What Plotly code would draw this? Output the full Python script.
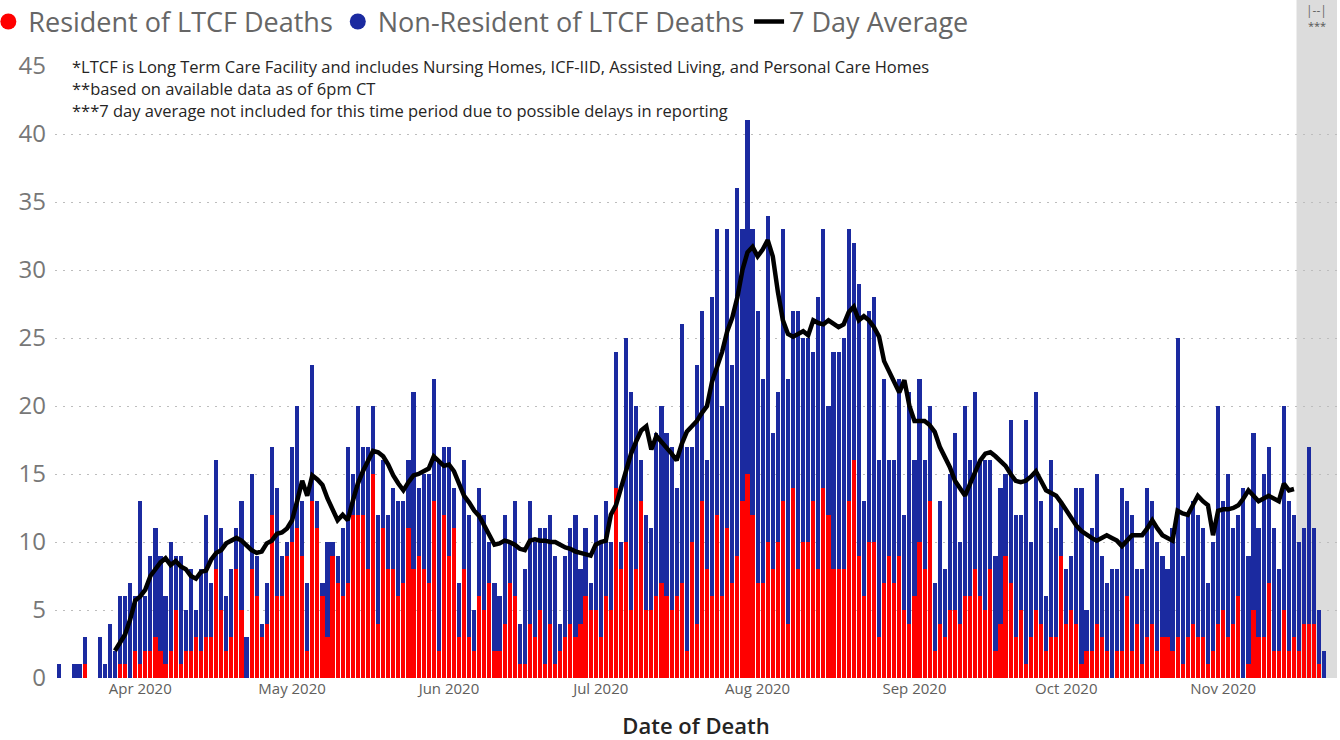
import pandas as pd
import plotly.graph_objects as go

# ---------------- data ----------------
start_date = "2020-03-16"

resident = [
    0, 0, 0, 0, 0, 1, 0, 0, 0, 0, 0, 0, 1, 1, 0, 2, 1, 2, 2, 3,
    2, 1, 2, 5, 1, 2, 2, 3, 2, 3, 3, 8, 5, 2, 3, 8, 5, 0, 8, 6,
    3, 4, 12, 6, 6, 9, 10, 11, 9, 2, 13, 11, 6, 3, 9, 7, 6, 7, 12, 12,
    12, 8, 15, 4, 11, 8, 8, 6, 7, 11, 8, 9, 8, 7, 13, 2, 12, 9, 11, 3,
    8, 3, 2, 6, 5, 7, 2, 2, 4, 7, 6, 1, 1, 4, 3, 5, 1, 4, 1, 2,
    3, 4, 3, 4, 6, 5, 5, 3, 6, 5, 14, 8, 10, 5, 8, 13, 5, 5, 6, 7,
    6, 5, 6, 7, 2, 10, 4, 13, 8, 6, 12, 6, 11, 7, 9, 13, 15, 12, 7, 7,
    10, 8, 10, 13, 4, 14, 8, 10, 10, 13, 8, 14, 12, 8, 8, 8, 13, 16, 9, 6,
    10, 10, 3, 7, 9, 7, 9, 5, 4, 6, 10, 8, 13, 2, 4, 3, 5, 5, 4, 6,
    6, 8, 6, 5, 8, 2, 4, 9, 7, 3, 5, 1, 3, 5, 4, 2, 3, 3, 9, 4,
    5, 4, 1, 2, 2, 4, 3, 2, 0, 2, 2, 6, 2, 4, 1, 3, 4, 2, 3, 3,
    2, 3, 1, 3, 4, 3, 3, 1, 2, 4, 5, 3, 4, 6, 0, 1, 5, 3, 3, 7,
    2, 2, 5, 2, 3, 2, 4, 4, 4, 1, 0,
]

non_resident = [
    1, 0, 0, 1, 1, 2, 0, 0, 3, 1, 4, 2, 5, 5, 7, 4, 12, 4, 7, 8,
    7, 5, 8, 4, 8, 3, 6, 2, 6, 9, 4, 8, 6, 4, 5, 3, 8, 3, 7, 3,
    1, 3, 5, 8, 3, 1, 7, 9, 4, 5, 10, 2, 1, 7, 1, 2, 5, 10, 3, 8,
    5, 9, 5, 8, 5, 4, 6, 7, 6, 5, 13, 5, 7, 8, 9, 14, 5, 8, 3, 4,
    8, 9, 3, 8, 7, 3, 5, 4, 8, 3, 7, 3, 7, 9, 7, 6, 10, 8, 8, 2,
    6, 7, 9, 4, 5, 2, 7, 7, 7, 5, 10, 2, 15, 16, 12, 3, 7, 6, 12, 13,
    12, 12, 8, 19, 15, 7, 19, 14, 8, 22, 21, 14, 22, 16, 27, 20, 26, 21, 20, 15,
    24, 10, 11, 20, 18, 13, 19, 15, 15, 11, 20, 19, 8, 16, 16, 17, 20, 16, 20, 7,
    17, 18, 13, 15, 7, 9, 13, 7, 17, 10, 12, 8, 7, 5, 9, 5, 10, 13, 6, 14,
    10, 13, 10, 11, 8, 7, 10, 6, 12, 9, 7, 18, 7, 16, 9, 4, 13, 8, 4, 4,
    4, 10, 13, 3, 9, 11, 6, 5, 8, 6, 12, 7, 10, 4, 7, 11, 9, 8, 6, 5,
    9, 22, 8, 9, 9, 9, 8, 6, 8, 16, 8, 12, 7, 6, 14, 8, 13, 8, 12, 10,
    9, 6, 15, 11, 9, 8, 7, 13, 7, 4, 2,
]

avg_first_day = 11          # index of the first day that has a 7 day average
seven_day_avg = [
    2.0, 2.6, 3.2, 4.3, 5.7, 6.0, 6.5, 7.5, 8.0, 8.5,
    8.8, 8.3, 8.6, 8.2, 8.0, 7.5, 7.3, 7.8, 7.9, 8.7,
    9.2, 9.4, 9.9, 10.1, 10.3, 10.1, 9.7, 9.4, 9.2, 9.3,
    9.9, 10.1, 10.6, 10.7, 11.0, 11.6, 13.0, 14.5, 13.4, 14.9,
    14.6, 14.2, 13.2, 12.3, 11.6, 12.0, 11.6, 13.0, 14.3, 15.2,
    16.0, 16.7, 16.6, 16.3, 15.7, 14.9, 14.3, 13.8, 14.4, 14.9,
    15.0, 15.2, 15.4, 16.3, 15.9, 15.6, 15.7, 15.2, 14.3, 13.4,
    12.9, 12.3, 11.9, 11.2, 10.4, 9.8, 9.9, 10.1, 10.0, 9.8,
    9.5, 9.4, 10.1, 10.2, 10.1, 10.1, 10.0, 10.0, 9.8, 9.6,
    9.5, 9.3, 9.2, 9.1, 9.0, 9.8, 10.0, 10.1, 12.0, 12.7,
    14.0, 15.2, 16.5, 17.4, 18.2, 18.5, 16.8, 17.8, 17.4, 17.0,
    16.5, 16.0, 17.2, 18.1, 18.5, 18.9, 19.5, 20.0, 21.8, 22.9,
    24.0, 25.5, 26.5, 28.0, 30.0, 31.3, 31.7, 31.0, 31.5, 32.2,
    31.0, 28.4, 26.3, 25.3, 25.1, 25.3, 25.5, 25.2, 26.3, 26.1,
    26.0, 26.3, 26.0, 25.8, 26.0, 26.9, 27.3, 26.3, 26.6, 26.3,
    25.8, 25.1, 23.3, 22.5, 21.8, 21.0, 21.9, 20.0, 18.9, 18.9,
    18.9, 18.6, 18.1, 17.0, 16.3, 15.5, 14.5, 14.0, 13.4, 14.3,
    15.2, 16.0, 16.5, 16.6, 16.3, 16.0, 15.6, 15.0, 14.5, 14.4,
    14.5, 14.8, 15.2, 14.5, 13.8, 13.6, 13.4, 12.9, 12.3, 11.8,
    11.2, 10.8, 10.5, 10.3, 10.1, 10.3, 10.5, 10.3, 10.1, 9.7,
    10.1, 10.5, 10.5, 10.5, 11.0, 11.6, 11.0, 10.5, 10.3, 10.1,
    12.3, 12.1, 12.0, 12.7, 13.4, 13.0, 12.7, 10.5, 12.3, 12.4,
    12.4, 12.5, 12.7, 13.2, 13.8, 13.4, 13.0, 13.2, 13.4, 13.2,
    13.0, 14.3, 13.8, 13.9,
]

month_tick_format = "%b %Y"
legend_names = ["Resident of LTCF Deaths", "Non-Resident of LTCF Deaths", "7 Day Average"]
notes = [
    "*LTCF is Long Term Care Facility and includes Nursing Homes, ICF-IID, Assisted Living, and Personal Care Homes",
    "**based on available data as of 6pm CT",
    "***7 day average not included for this time period due to possible delays in reporting",
]
shade_first_day = 245       # first day covered by the grey "delays" band

# ---------------- styling ----------------
RED = "#FF0000"
BLUE = "#1B2AA0"
FONT = "Segoe UI, Open Sans, sans-serif"

dates = pd.date_range(start_date, periods=len(resident), freq="D")
avg_dates = dates[avg_first_day: avg_first_day + len(seven_day_avg)]

day0 = pd.Timestamp(start_date)
x_left = day0 + pd.Timedelta(days=-0.85)
x_right = day0 + pd.Timedelta(days=252.5)
shade_start = day0 + pd.Timedelta(days=shade_first_day - 0.5)
shade_frac = (shade_start - x_left) / (x_right - x_left)

fig = go.Figure()
fig.add_trace(go.Bar(x=dates, y=resident, name=legend_names[0], marker_color=RED,
                     marker_line_width=0, showlegend=False))
fig.add_trace(go.Bar(x=dates, y=non_resident, name=legend_names[1], marker_color=BLUE,
                     marker_line_width=0, showlegend=False))
# legend proxies (circle symbols like the original legend)
fig.add_trace(go.Scatter(x=[None], y=[None], mode="markers", name=legend_names[0],
                         marker=dict(color=RED, size=16, symbol="circle")))
fig.add_trace(go.Scatter(x=[None], y=[None], mode="markers", name=legend_names[1],
                         marker=dict(color=BLUE, size=16, symbol="circle")))
fig.add_trace(go.Scatter(x=avg_dates, y=seven_day_avg, mode="lines", name=legend_names[2],
                         line=dict(color="black", width=4.5)))

fig.add_shape(type="rect", xref="paper", yref="paper",
              x0=shade_frac, x1=1.0, y0=0, y1=1.108,
              fillcolor="#DCDCDC", line_width=0, layer="below")

note_y = [1.0, 0.964, 0.928]
for txt, yy in zip(notes, note_y):
    fig.add_annotation(text=txt, xref="paper", yref="paper", x=0.0117, y=yy,
                       xanchor="left", yanchor="middle", showarrow=False,
                       font=dict(family=FONT, size=16.5, color="#252423"))

fig.add_annotation(text="|--|", xref="paper", yref="paper", x=(1 + shade_frac) / 2, y=1.090,
                   xanchor="center", yanchor="middle", showarrow=False,
                   font=dict(family=FONT, size=12, color="#666666"))
fig.add_annotation(text="***", xref="paper", yref="paper", x=(1 + shade_frac) / 2, y=1.066,
                   xanchor="center", yanchor="middle", showarrow=False,
                   font=dict(family=FONT, size=11, color="#555555"))

fig.update_layout(
    width=1340, height=740,
    margin=dict(l=55, r=3, t=66, b=62, autoexpand=False),
    paper_bgcolor="white", plot_bgcolor="white",
    barmode="stack", bargap=0.18,
    font=dict(family=FONT),
    legend=dict(orientation="h", x=-0.052, y=1.072, xanchor="left", yanchor="middle",
                font=dict(family=FONT, size=27, color="#666666"),
                bgcolor="rgba(0,0,0,0)", itemwidth=30, traceorder="normal"),
    xaxis=dict(type="date", range=[x_left, x_right], dtick="M1", tick0="2020-04-01",
               tickformat=month_tick_format, showgrid=False, zeroline=False, showline=False,
               ticks="", tickfont=dict(family=FONT, size=15, color="#605E5C"),
               automargin=False,
               title=dict(text="Date of Death", standoff=22,
                          font=dict(family=FONT, size=22, color="#252423", weight=600))),
    yaxis=dict(range=[0, 45], dtick=5, showgrid=True, gridcolor="#BDBDBD", griddash="2px,6px",
               gridwidth=1, zeroline=False, showline=False, ticks="", automargin=False,
               ticklabelstandoff=8,
               tickfont=dict(family=FONT, size=24, color="#777777")),
)

fig.write_html("out.html", config={"displayModeBar": False},
               post_script="document.body.style.margin='0';")
